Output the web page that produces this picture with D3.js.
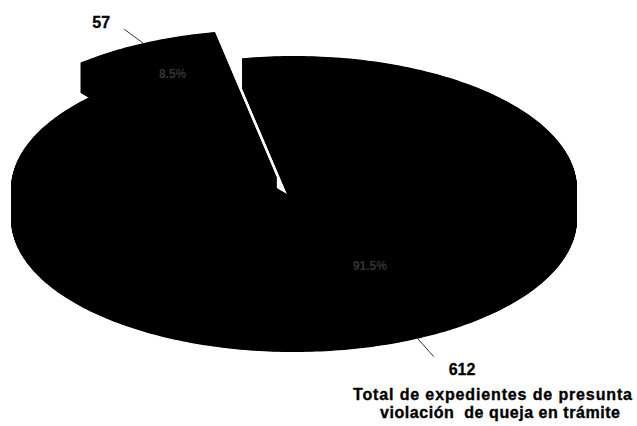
<!DOCTYPE html>
<html lang="es">
<head>
<meta charset="utf-8">
<title>Expedientes en trámite</title>
<script src="https://cdn.jsdelivr.net/npm/d3@7"></script>
<style>
  body { margin: 0; background: #fff; }
  svg { display: block; }
  text { font-family: "Liberation Sans", Arial, sans-serif; font-weight: bold; }
</style>
</head>
<body>
<svg width="637" height="426"></svg>
<script>
// datos
var values = [57, 612];
var valueLabels = ["57", "612"];
var caption = ["Total de expedientes de presunta", "violación  de queja en trámite"];

var svg = d3.select("svg");
svg.append("rect").attr("width", 637).attr("height", 426).attr("fill", "#fff");

// pie geometry (top face ellipse)
var cx = 294, cy = 189, rx = 283, ry = 133, depth = 30;
var hub = [304, 204];          // where radial edges meet
var explode = [62, 0];         // small slice pulled out
var boundary = -10.59 * Math.PI / 180;   // edge between the two slices

var total = d3.sum(values);
var a0 = boundary - 2 * Math.PI * values[0] / total;
var pie = d3.pie().sort(null).startAngle(a0).endAngle(a0 + 2 * Math.PI);
var arcs = pie(values);
var pct = d3.format(".1%");

function offsetOf(d, i) {
  var mid = (d.startAngle + d.endAngle) / 2, k = explode[i];
  return [k * Math.sin(mid), -k * Math.cos(mid) * ry / rx];
}
function arcPoint(a, o) {
  return [cx + o[0] + rx * Math.sin(a), cy + o[1] - ry * Math.cos(a)];
}
function facePoints(d, i) {
  var o = offsetOf(d, i);
  var n = Math.max(10, Math.round((d.endAngle - d.startAngle) * 60));
  var pts = [[hub[0] + o[0], hub[1] + o[1]]];
  d3.range(n + 1).forEach(function(j) {
    pts.push(arcPoint(d.startAngle + (d.endAngle - d.startAngle) * j / n, o));
  });
  return pts;
}

var line = d3.line();
var steps = d3.range(0, depth + 0.01, 0.5);

// extruded slices: stack the top face down to the bottom
var slices = svg.selectAll("g.slice").data(arcs).join("g").attr("class", "slice");
slices.each(function(d, i) {
  var dStr = line(facePoints(d, i)) + "Z";
  d3.select(this).selectAll("path").data(steps).join("path")
    .attr("d", dStr)
    .attr("fill", "#000")
    .attr("transform", function(t) { return "translate(0," + t + ")"; });
});

// faint percentage labels inside the slices
var labelFrac = [0.78, 0.58];
slices.append("text")
  .attr("x", function(d, i) {
    var o = offsetOf(d, i), m = arcPoint((d.startAngle + d.endAngle) / 2, o);
    return hub[0] + o[0] + labelFrac[i] * (m[0] - hub[0] - o[0]);
  })
  .attr("y", function(d, i) {
    var o = offsetOf(d, i), m = arcPoint((d.startAngle + d.endAngle) / 2, o);
    return hub[1] + o[1] + labelFrac[i] * (m[1] - hub[1] - o[1]) + 5;
  })
  .attr("text-anchor", "middle")
  .attr("font-size", 12)
  .attr("fill", "#333")
  .text(function(d) { return pct(d.value / total); });

// value labels with leader lines
var leadDrop = [0, depth];
var leadVec = [[-19, -14], [16, 18]];
var labelShift = [[-14, -4], [15, 18]];
var anchors = ["end", "start"];
arcs.forEach(function(d, i) {
  var o = offsetOf(d, i);
  var m = arcPoint((d.startAngle + d.endAngle) / 2, o);
  var p0 = [m[0], m[1] + leadDrop[i]];
  var p1 = [p0[0] + leadVec[i][0], p0[1] + leadVec[i][1]];
  svg.append("line")
    .attr("x1", p0[0]).attr("y1", p0[1])
    .attr("x2", p1[0]).attr("y2", p1[1])
    .attr("stroke", "#333").attr("stroke-width", 1);
  svg.append("text")
    .attr("x", p1[0] + labelShift[i][0])
    .attr("y", p1[1] + labelShift[i][1] + (i === 0 ? 3 : 0))
    .attr("text-anchor", anchors[i])
    .attr("font-size", 16)
    .attr("fill", "#000")
    .attr("stroke", "#000").attr("stroke-width", 0.3)
    .text(valueLabels[i]);
});

// caption
var capX = [353, 380], capY = [400, 418], capW = [279, 240];
svg.selectAll("text.cap").data(caption).join("text")
  .attr("class", "cap")
  .attr("x", function(d, i) { return capX[i]; })
  .attr("y", function(d, i) { return capY[i]; })
  .attr("textLength", function(d, i) { return capW[i]; })
  .attr("lengthAdjust", "spacing")
  .attr("font-size", 16)
  .attr("fill", "#000")
  .attr("stroke", "#000").attr("stroke-width", 0.35)
  .style("white-space", "pre")
  .text(function(d) { return d; });
</script>
</body>
</html>
